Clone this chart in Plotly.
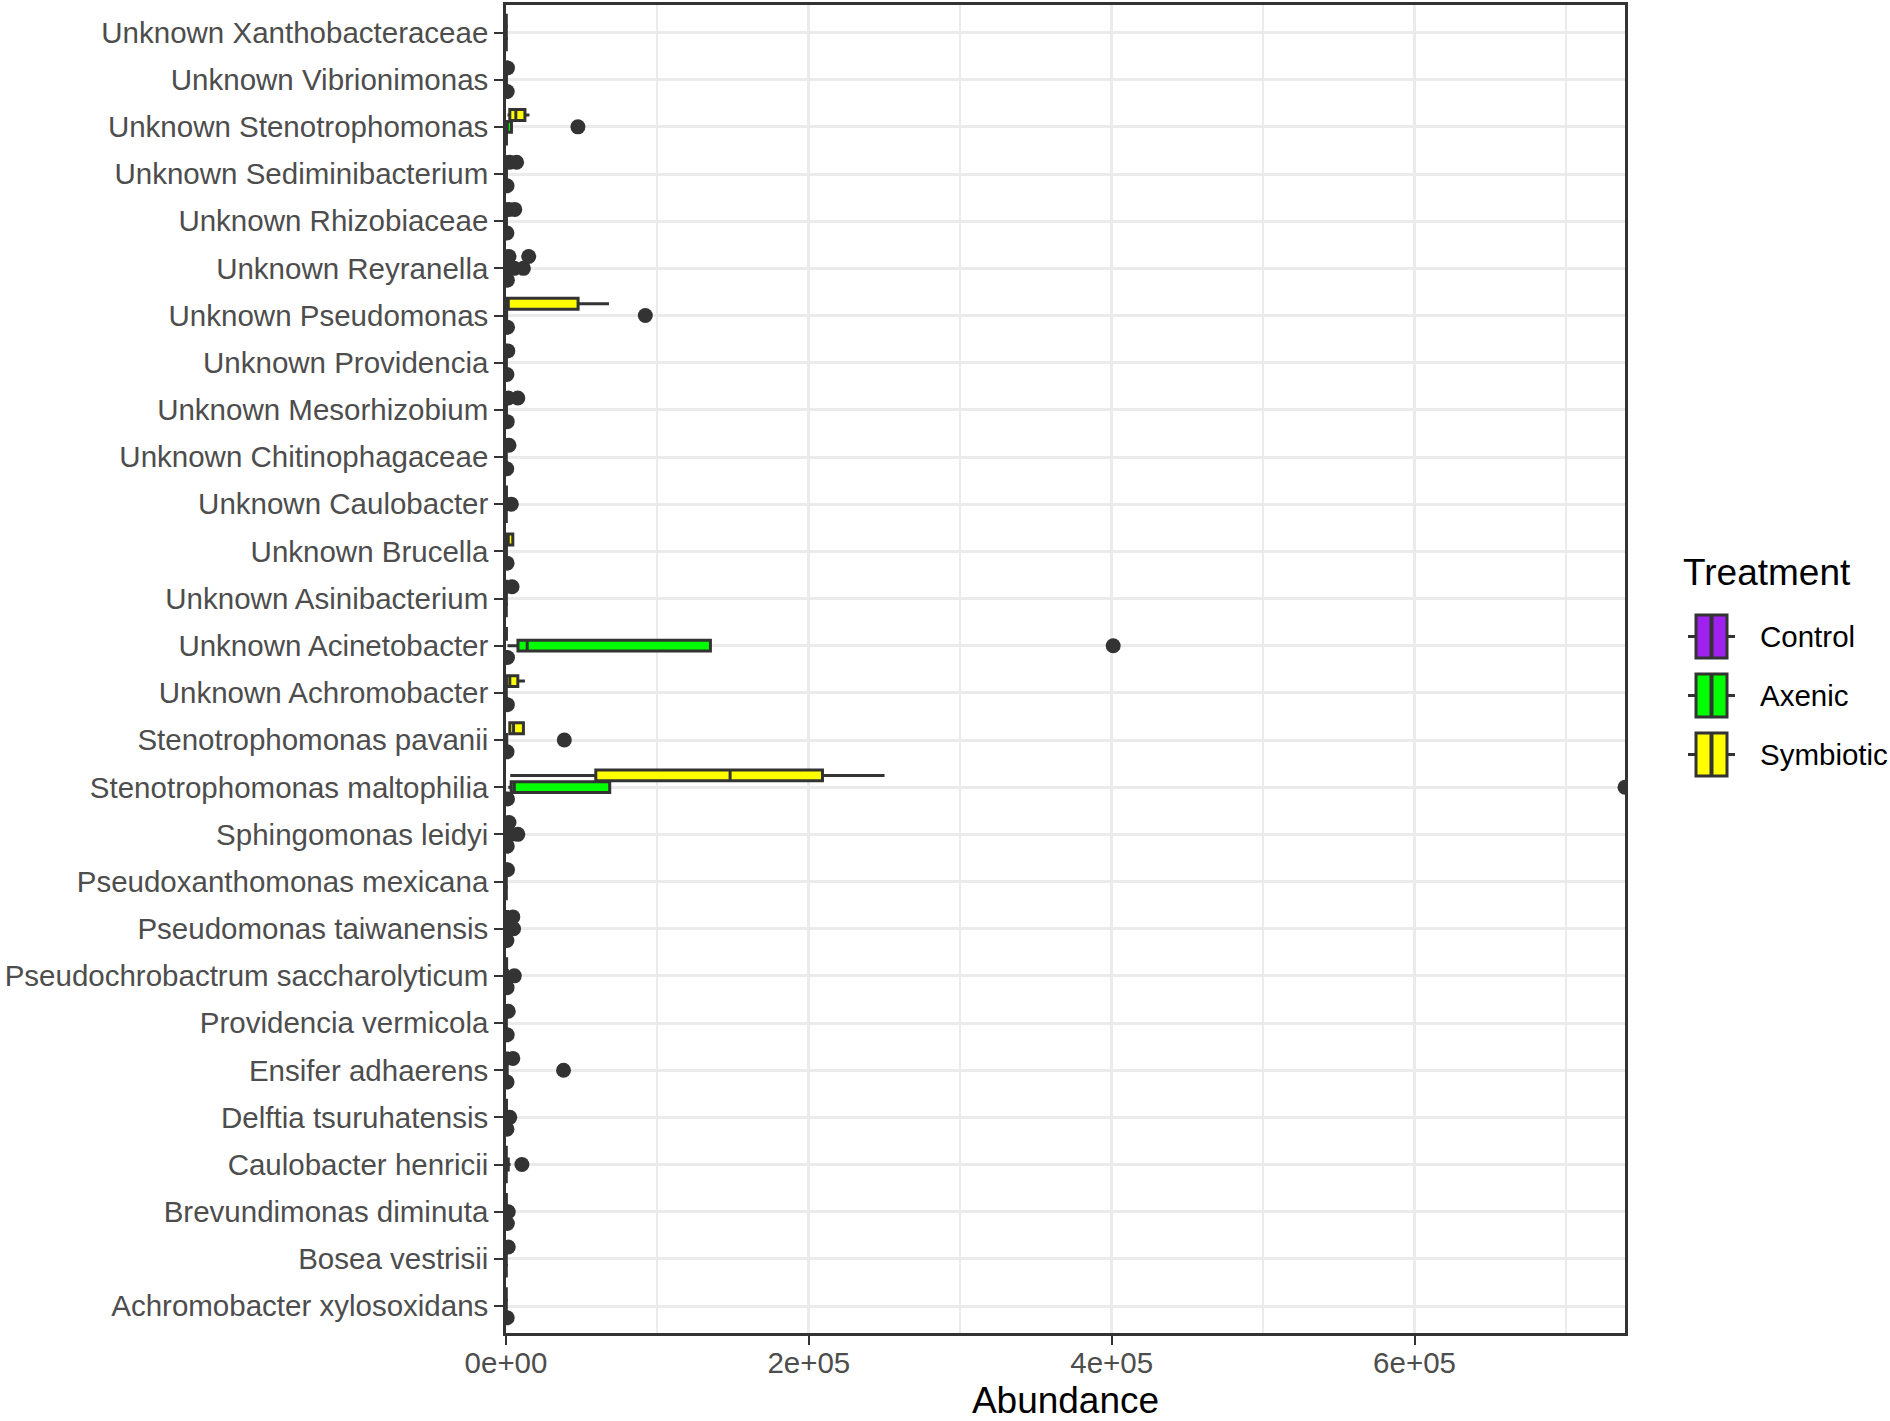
import plotly.graph_objects as go

# Categories, listed top to bottom as they appear on the chart
categories = [
    "Unknown Xanthobacteraceae", "Unknown Vibrionimonas", "Unknown Stenotrophomonas",
    "Unknown Sediminibacterium", "Unknown Rhizobiaceae", "Unknown Reyranella",
    "Unknown Pseudomonas", "Unknown Providencia", "Unknown Mesorhizobium",
    "Unknown Chitinophagaceae", "Unknown Caulobacter", "Unknown Brucella",
    "Unknown Asinibacterium", "Unknown Acinetobacter", "Unknown Achromobacter",
    "Stenotrophomonas pavanii", "Stenotrophomonas maltophilia", "Sphingomonas leidyi",
    "Pseudoxanthomonas mexicana", "Pseudomonas taiwanensis",
    "Pseudochrobactrum saccharolyticum", "Providencia vermicola", "Ensifer adhaerens",
    "Delftia tsuruhatensis", "Caulobacter henricii", "Brevundimonas diminuta",
    "Bosea vestrisii", "Achromobacter xylosoxidans",
]

treatments = ["Control", "Axenic", "Symbiotic"]
fill_colors = ["#A020F0", "#00FF00", "#FFFF00"]

# ---- Control box statistics (same order as categories) ----
ctrl_low = [0, 0, 0, 0, 0, 0, 0, 0, 0, 0, 0, 0, 0, 0, 0, 0, 0, 0, 0, 0, 0, 0, 0, 0, 0, 0, 0, 0]
ctrl_q1 = [0, 0, 0, 0, 0, 0, 0, 0, 0, 0, 0, 0, 0, 0, 0, 0, 0, 0, 0, 0, 0, 0, 0, 0, 0, 0, 0, 0]
ctrl_med = [50, 80, 100, 60, 50, 80, 100, 60, 70, 50, 60, 70, 50, 90, 80, 60, 90, 70, 50, 60, 70, 60, 70, 60, 50, 80, 60, 70]
ctrl_q3 = [200, 250, 300, 200, 200, 300, 300, 200, 250, 200, 200, 250, 200, 300, 300, 200, 300, 250, 200, 200, 250, 200, 250, 200, 200, 300, 200, 250]
ctrl_high = [400, 500, 600, 450, 400, 600, 600, 450, 500, 400, 400, 500, 400, 600, 600, 450, 600, 500, 400, 450, 500, 450, 500, 450, 400, 600, 400, 500]
ctrl_out_cat = [1, 3, 4, 5, 6, 7, 8, 9, 11, 13, 14, 15, 16, 17, 19, 20, 21, 22, 23, 25, 27]
ctrl_out_val = [800, 700, 600, 900, 1000, 600, 800, 500, 700, 1000, 900, 700, 1000, 800, 600, 700, 800, 700, 600, 900, 800]

# ---- Axenic box statistics ----
axen_low = [0, 0, 0, 0, 0, 0, 0, 0, 0, 0, 0, 0, 0, 1000, 0, 0, 1500, 0, 0, 0, 0, 0, 0, 0, 0, 0, 0, 0]
axen_q1 = [0, 0, 0, 0, 0, 0, 0, 0, 0, 0, 0, 0, 0, 7900, 0, 0, 3400, 0, 0, 0, 0, 0, 0, 0, 0, 0, 0, 0]
axen_med = [60, 80, 800, 90, 80, 300, 100, 70, 90, 60, 200, 80, 70, 14000, 60, 150, 5500, 300, 60, 200, 250, 70, 200, 150, 400, 100, 60, 50]
axen_q3 = [200, 300, 3600, 300, 300, 1200, 400, 250, 300, 200, 800, 300, 250, 135000, 200, 500, 68500, 1000, 200, 800, 900, 250, 800, 500, 1500, 400, 200, 200]
axen_high = [400, 600, 3600, 600, 600, 2500, 800, 500, 600, 400, 1500, 600, 500, 135000, 400, 1000, 68500, 2000, 400, 1500, 1800, 500, 1500, 1000, 3000, 800, 400, 400]
axen_out_cat = [2, 5, 5, 6, 10, 13, 15, 16, 17, 17, 19, 20, 22, 23, 24, 25]
axen_out_val = [47500, 5500, 11500, 92000, 3500, 401000, 38500, 739000, 7800, 3000, 5000, 5500, 38000, 2500, 10500, 1500]

# ---- Symbiotic box statistics ----
symb_low = [0, 0, 1000, 0, 0, 0, 0, 0, 0, 0, 0, 0, 0, 0, 0, 1500, 2800, 0, 0, 0, 0, 0, 0, 0, 0, 0, 0, 0]
symb_q1 = [0, 0, 2500, 0, 0, 0, 800, 0, 0, 0, 0, 500, 0, 0, 300, 2500, 59300, 0, 0, 0, 0, 0, 0, 0, 0, 0, 0, 0]
symb_med = [50, 100, 6500, 200, 200, 300, 1500, 100, 200, 100, 80, 1500, 150, 100, 2500, 5000, 148000, 150, 80, 300, 100, 100, 300, 80, 60, 70, 100, 60]
symb_q3 = [200, 400, 12500, 800, 700, 1000, 47600, 400, 800, 400, 300, 4500, 600, 300, 7800, 11500, 209000, 500, 300, 1000, 400, 400, 1000, 300, 200, 250, 400, 200]
symb_high = [400, 800, 15500, 1500, 1400, 1800, 68000, 800, 1500, 800, 600, 5000, 1200, 600, 12500, 12000, 250000, 1000, 600, 2000, 800, 800, 2000, 600, 400, 500, 800, 400]
symb_out_cat = [1, 3, 3, 4, 4, 5, 5, 7, 8, 8, 9, 12, 17, 18, 19, 21, 22, 26]
symb_out_val = [1000, 2500, 7000, 2000, 5800, 2000, 15000, 1200, 1500, 7800, 2000, 4000, 2000, 1000, 4500, 1500, 4500, 1500]

x_tick_vals = [0, 200000, 400000, 600000]
x_tick_text = ["0e+00", "2e+05", "4e+05", "6e+05"]
x_max = 739000

# ---------------------------------------------------------------
n = len(categories)
offsets = [-0.25, 0.0, 0.25]
box_width = 0.23
edge = "#333333"
font_family = "Liberation Sans, Arial, sans-serif"

stats = [
    (ctrl_low, ctrl_q1, ctrl_med, ctrl_q3, ctrl_high, ctrl_out_cat, ctrl_out_val),
    (axen_low, axen_q1, axen_med, axen_q3, axen_high, axen_out_cat, axen_out_val),
    (symb_low, symb_q1, symb_med, symb_q3, symb_high, symb_out_cat, symb_out_val),
]

def pos(i):
    return n - i  # top category gets the highest position

fig = go.Figure()
for t, name in enumerate(treatments):
    lo, q1, md, q3, hi, oc, ov = stats[t]
    fig.add_trace(go.Box(
        name=name,
        orientation="h",
        y=[pos(i) + offsets[t] for i in range(n)],
        lowerfence=lo, q1=q1, median=md, q3=q3, upperfence=hi,
        width=box_width,
        fillcolor=fill_colors[t],
        line=dict(color=edge, width=3),
        whiskerwidth=0,
        boxpoints=False,
        showlegend=False,
        hoverinfo="skip",
    ))

for t, name in enumerate(treatments):
    lo, q1, md, q3, hi, oc, ov = stats[t]
    fig.add_trace(go.Scatter(
        x=ov,
        y=[pos(i) + offsets[t] for i in oc],
        mode="markers",
        marker=dict(color=edge, size=15, line=dict(width=0)),
        showlegend=False,
        hoverinfo="skip",
    ))

# ---- Plot area placement in pixels (body margin is removed below) ----
W, H = 1890, 1421
left_px, right_px, top_px, bottom_px = 506, 1625, 5, 1333

def px_x(X):
    return (X - left_px) / (right_px - left_px)

def px_y(Y):
    return (bottom_px - Y) / (bottom_px - top_px)

# ---- ggplot-style legend: keys with box, median line and whiskers ----
shapes = []
annotations = [dict(
    text="Treatment", xref="paper", yref="paper",
    x=px_x(1681), y=px_y(572), xanchor="left", yanchor="middle",
    showarrow=False, font=dict(size=37, color="black", family=font_family),
)]
key_centers = [636.5, 695.5, 754.5]
key_half_h = 21.5
for t, name in enumerate(treatments):
    cy = key_centers[t]
    shapes.append(dict(type="rect", xref="paper", yref="paper",
                       x0=px_x(1696), x1=px_x(1727), y0=px_y(cy + key_half_h), y1=px_y(cy - key_half_h),
                       fillcolor=fill_colors[t], line=dict(color=edge, width=3), layer="above"))
    shapes.append(dict(type="line", xref="paper", yref="paper",
                       x0=px_x(1711.5), x1=px_x(1711.5), y0=px_y(cy + key_half_h), y1=px_y(cy - key_half_h),
                       line=dict(color=edge, width=4), layer="above"))
    shapes.append(dict(type="line", xref="paper", yref="paper",
                       x0=px_x(1688), x1=px_x(1696), y0=px_y(cy), y1=px_y(cy),
                       line=dict(color=edge, width=3), layer="above"))
    shapes.append(dict(type="line", xref="paper", yref="paper",
                       x0=px_x(1727), x1=px_x(1735), y0=px_y(cy), y1=px_y(cy),
                       line=dict(color=edge, width=3), layer="above"))
    annotations.append(dict(
        text=name, xref="paper", yref="paper",
        x=px_x(1758), y=px_y(cy), xanchor="left", yanchor="middle",
        showarrow=False, font=dict(size=29.5, color="black", family=font_family),
    ))

fig.update_layout(
    width=W, height=H,
    margin=dict(l=left_px, r=W - right_px, t=top_px, b=H - bottom_px, autoexpand=False),
    paper_bgcolor="white",
    plot_bgcolor="white",
    boxmode="overlay",
    showlegend=False,
    font=dict(family=font_family, size=29.5, color="#4D4D4D"),
    shapes=shapes,
    annotations=annotations,
)

fig.update_xaxes(
    range=[0, x_max],
    tickmode="array", tickvals=x_tick_vals, ticktext=x_tick_text,
    tickfont=dict(size=29.5, color="#4D4D4D", family=font_family),
    ticks="outside", ticklen=9, tickwidth=2, tickcolor=edge,
    ticklabelstandoff=-7,
    showline=True, mirror=True, linecolor=edge, linewidth=2.5,
    showgrid=True, gridcolor="#EBEBEB", gridwidth=3,
    minor=dict(dtick=100000, tick0=0, showgrid=True, gridcolor="#EBEBEB", gridwidth=1.5),
    zeroline=False,
    automargin=False,
    title=dict(text="Abundance", font=dict(size=37, color="black", family=font_family), standoff=10),
)

fig.update_yaxes(
    range=[0.428, 28.583],
    tickmode="array",
    tickvals=[pos(i) for i in range(n)],
    ticktext=categories,
    tickfont=dict(size=29.5, color="#4D4D4D", family=font_family),
    ticks="outside", ticklen=9, tickwidth=2, tickcolor=edge,
    ticklabelstandoff=0,
    showline=True, mirror=True, linecolor=edge, linewidth=2.5,
    showgrid=True, gridcolor="#EBEBEB", gridwidth=3,
    zeroline=False,
    automargin=False,
)

fig.write_html(
    "out.html",
    config={"displayModeBar": False},
    post_script="document.body.style.margin='0';document.body.style.overflow='hidden';",
)
